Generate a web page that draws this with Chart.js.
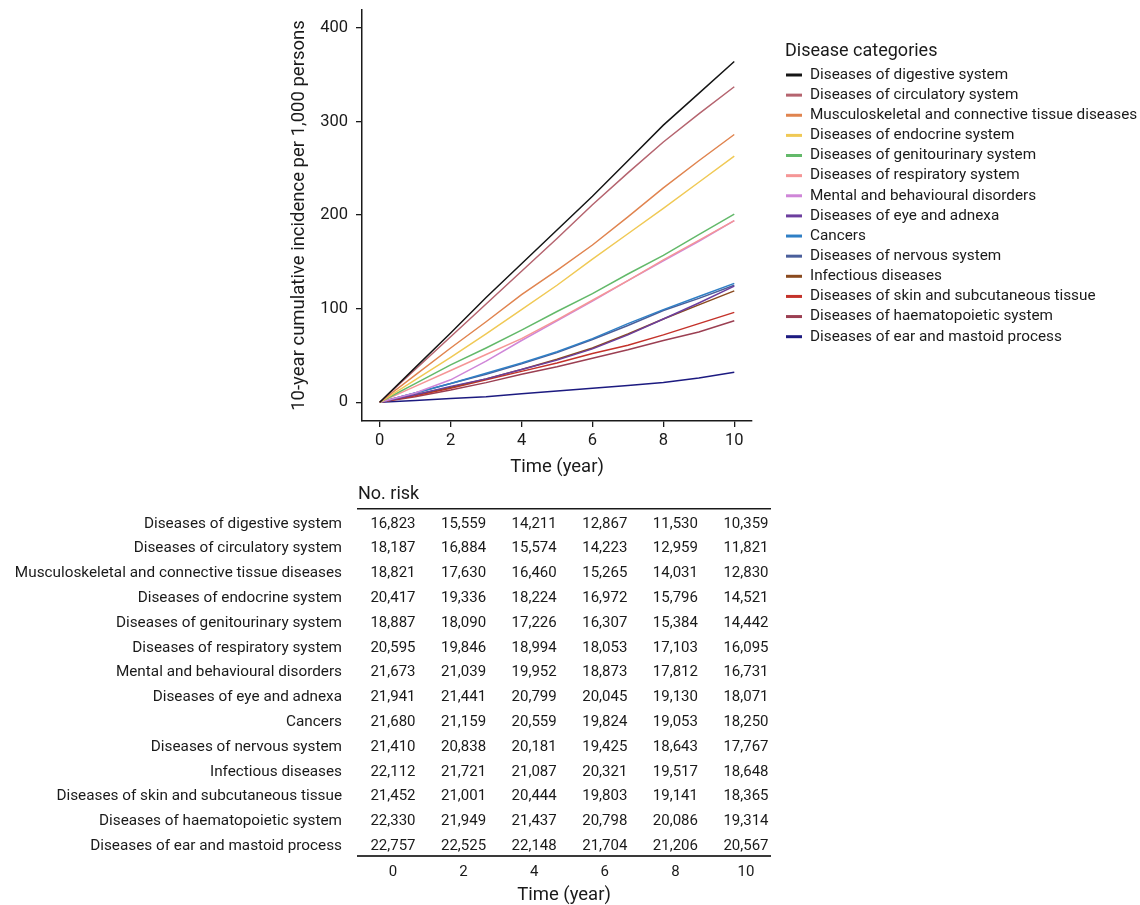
<!DOCTYPE html>
<html>
<head>
<meta charset="utf-8">
<script src="https://cdn.jsdelivr.net/npm/chart.js@4.4.1/dist/chart.umd.min.js"></script>
<style>
  html, body { margin: 0; padding: 0; background: #fff; }
  #wrap { position: relative; width: 1140px; height: 905px; overflow: hidden; }
  canvas { position: absolute; left: 0; }
  #curves { top: 0; }
  #risk { top: 480px; }
</style>
</head>
<body>
<div id="wrap">
  <canvas id="curves" width="1140" height="480"></canvas>
  <canvas id="risk" width="1140" height="425"></canvas>
</div>
<script>
// time points (years)
const years = [0, 1, 2, 3, 4, 5, 6, 7, 8, 9, 10];
const xTicks = [0, 2, 4, 6, 8, 10];
const yTicks = [0, 100, 200, 300, 400];

const categories = [
    'Diseases of digestive system',
    'Diseases of circulatory system',
    'Musculoskeletal and connective tissue diseases',
    'Diseases of endocrine system',
    'Diseases of genitourinary system',
    'Diseases of respiratory system',
    'Mental and behavioural disorders',
    'Diseases of eye and adnexa',
    'Cancers',
    'Diseases of nervous system',
    'Infectious diseases',
    'Diseases of skin and subcutaneous tissue',
    'Diseases of haematopoietic system',
    'Diseases of ear and mastoid process'
];

// cumulative incidence per 1,000 persons
const incDigestive   = [0, 37, 74, 112, 148, 184, 220, 258, 296, 330, 364];
const incCirculatory = [0, 35, 70, 105, 140, 175, 211, 245, 278, 308, 337];
const incMusculo     = [0, 29, 58, 86, 115, 141, 168, 198, 229, 258, 286];
const incEndocrine   = [0, 24, 48, 73, 99, 125, 153, 180, 207, 235, 263];
const incGenito      = [0, 20, 40, 58, 77, 97, 116, 137, 157, 179, 201];
const incRespiratory = [0, 17, 34, 51, 68, 88, 109, 130, 152, 173, 194];
const incMental      = [0, 10, 24, 44, 66, 87, 108, 130, 151, 172, 194];
const incEye         = [0, 8, 17, 25, 35, 45, 57, 72, 89, 106, 124];
const incCancers     = [0, 10, 20, 31, 42, 54, 68, 84, 99, 113, 127];
const incNervous     = [0, 10, 20, 30, 41, 53, 67, 82, 98, 111, 125];
const incInfectious  = [0, 8, 16, 25, 35, 46, 58, 73, 89, 104, 119];
const incSkin        = [0, 7, 15, 24, 33, 42, 52, 61, 72, 84, 96];
const incHaema       = [0, 6, 13, 21, 30, 38, 47, 56, 66, 75, 87];
const incEar         = [0, 2, 4, 6, 9, 12, 15, 18, 21, 26, 32];

const lineColors = [
    '#151515', '#b5646f', '#e0844f', '#f0c955', '#63b96a', '#f59696', '#cf86d8',
    '#6c3e9e', '#2f7fc5', '#4a5f9b', '#8a4a1e', '#c4322a', '#9b3f52', '#1c1a80'
];

// number at risk table
const riskTimes = [0, 2, 4, 6, 8, 10];
const riskDigestive   = [16823, 15559, 14211, 12867, 11530, 10359];
const riskCirculatory = [18187, 16884, 15574, 14223, 12959, 11821];
const riskMusculo     = [18821, 17630, 16460, 15265, 14031, 12830];
const riskEndocrine   = [20417, 19336, 18224, 16972, 15796, 14521];
const riskGenito      = [18887, 18090, 17226, 16307, 15384, 14442];
const riskRespiratory = [20595, 19846, 18994, 18053, 17103, 16095];
const riskMental      = [21673, 21039, 19952, 18873, 17812, 16731];
const riskEye         = [21941, 21441, 20799, 20045, 19130, 18071];
const riskCancers     = [21680, 21159, 20559, 19824, 19053, 18250];
const riskNervous     = [21410, 20838, 20181, 19425, 18643, 17767];
const riskInfectious  = [22112, 21721, 21087, 20321, 19517, 18648];
const riskSkin        = [21452, 21001, 20444, 19803, 19141, 18365];
const riskHaema       = [22330, 21949, 21437, 20798, 20086, 19314];
const riskEar         = [22757, 22525, 22148, 21704, 21206, 20567];

const incSeries = [incDigestive, incCirculatory, incMusculo, incEndocrine, incGenito,
    incRespiratory, incMental, incEye, incCancers, incNervous, incInfectious,
    incSkin, incHaema, incEar];
const riskRows = [riskDigestive, riskCirculatory, riskMusculo, riskEndocrine, riskGenito,
    riskRespiratory, riskMental, riskEye, riskCancers, riskNervous, riskInfectious,
    riskSkin, riskHaema, riskEar];

const FONT = 'Roboto, "Noto Sans", sans-serif';
const INK = '#1a1a1a';
const ROW_SHIFT = 2.5;

// legend drawn at the right of the plot
const sideLegend = {
    id: 'sideLegend',
    afterDraw(chart) {
        const ctx = chart.ctx;
        ctx.save();
        ctx.fillStyle = INK;
        ctx.textBaseline = 'middle';
        ctx.textAlign = 'left';
        ctx.font = '18px ' + FONT;
        ctx.fillText('Disease categories', 785, 51);
        ctx.font = '15.3px ' + FONT;
        chart.data.datasets.forEach(function(ds, i) {
            const y = 75 + i * 20.13;
            ctx.strokeStyle = ds.borderColor;
            ctx.lineWidth = 3;
            ctx.beginPath();
            ctx.moveTo(786, y);
            ctx.lineTo(802, y);
            ctx.stroke();
            ctx.fillText(ds.label, 810, y);
        });
        ctx.restore();
    }
};

// keep the plot edges where they are, ignoring label overhang
function noOverhang(s) {
    s.paddingTop = 0;
    s.paddingBottom = 0;
    s.paddingLeft = 0;
    s.paddingRight = 0;
}

const curves = new Chart(document.getElementById('curves'), {
    type: 'line',
    data: {
        datasets: categories.map(function(name, i) {
            return {
                label: name,
                data: years.map(function(t, k) { return {x: t, y: incSeries[i][k]}; }),
                borderColor: lineColors[i],
                backgroundColor: lineColors[i],
                borderWidth: 1.5,
                pointRadius: 0,
                tension: 0
            };
        })
    },
    options: {
        responsive: false,
        animation: false,
        layout: { padding: { left: 288, right: 388, top: 10, bottom: 0 } },
        scales: {
            x: {
                type: 'linear',
                min: -0.5,
                max: 10.5,
                afterBuildTicks: function(s) { s.ticks = xTicks.map(function(v) { return {value: v}; }); },
                afterFit: function(s) { s.height = 59; noOverhang(s); },
                grid: { drawOnChartArea: false, drawTicks: true, tickLength: 6, tickColor: INK, lineWidth: 1.3 },
                border: { display: true, color: INK, width: 1.5 },
                ticks: { color: INK, font: { family: FONT, size: 16.5 }, padding: 4, maxRotation: 0 },
                title: { display: true, text: 'Time (year)', color: INK, font: { family: FONT, size: 18.5 }, padding: { top: 0, bottom: 2 } }
            },
            y: {
                type: 'linear',
                min: -20,
                max: 419,
                afterBuildTicks: function(s) { s.ticks = yTicks.map(function(v) { return {value: v}; }); },
                afterFit: function(s) { s.width = 74; noOverhang(s); },
                grid: { drawOnChartArea: false, drawTicks: true, tickLength: 6, tickColor: INK, lineWidth: 1.3 },
                border: { display: true, color: INK, width: 1.5 },
                ticks: { color: INK, font: { family: FONT, size: 16.5 }, padding: 8 },
                title: { display: true, text: '10-year cumulative incidence per 1,000 persons', color: INK, font: { family: FONT, size: 18.5 }, padding: { top: 0, bottom: 0 } }
            }
        },
        plugins: {
            legend: { display: false },
            tooltip: { enabled: false }
        }
    },
    plugins: [sideLegend]
});

// numbers at risk written into the table cells
const riskCells = {
    id: 'riskCells',
    afterDraw(chart) {
        const ctx = chart.ctx;
        const xs = chart.scales.x;
        const ys = chart.scales.y;
        ctx.save();
        ctx.fillStyle = INK;
        ctx.font = '15px ' + FONT;
        ctx.textAlign = 'center';
        ctx.textBaseline = 'middle';
        riskRows.forEach(function(row, i) {
            const y = ys.getPixelForValue(i) + ROW_SHIFT;
            row.forEach(function(v, j) {
                ctx.fillText(v.toLocaleString('en-US'), xs.getPixelForValue(riskTimes[j]), y);
            });
        });
        ctx.restore();
    }
};

const risk = new Chart(document.getElementById('risk'), {
    type: 'scatter',
    data: { datasets: [] },
    options: {
        responsive: false,
        animation: false,
        layout: { padding: { left: 0, right: 370, top: 0, bottom: 0 } },
        scales: {
            x: {
                type: 'linear',
                position: 'bottom',
                min: -0.99,
                max: 10.68,
                afterBuildTicks: function(s) { s.ticks = riskTimes.map(function(v) { return {value: v}; }); },
                afterFit: function(s) { s.height = 49; noOverhang(s); },
                grid: { display: false, drawTicks: false },
                border: { display: true, color: '#3a3a3a', width: 2 },
                ticks: { color: INK, font: { family: FONT, size: 15 }, padding: 7, maxRotation: 0 },
                title: { display: true, text: 'Time (year)', color: INK, font: { family: FONT, size: 18.5, lineHeight: 1 }, padding: { top: 0, bottom: 0 } }
            },
            xTop: {
                type: 'linear',
                axis: 'x',
                position: 'top',
                min: -0.99,
                max: 10.68,
                afterFit: function(s) { s.height = 29; noOverhang(s); },
                grid: { display: false, drawTicks: false },
                border: { display: true, color: INK, width: 1.5 },
                ticks: { display: false },
                title: { display: true, text: 'No. risk', align: 'start', color: INK, font: { family: FONT, size: 18, lineHeight: 1 }, padding: { top: 5, bottom: 0 } }
            },
            y: {
                type: 'category',
                labels: categories,
                offset: true,
                afterFit: function(s) { s.width = 358; noOverhang(s); },
                grid: { display: false, drawTicks: false },
                border: { display: false },
                ticks: { color: INK, font: { family: FONT, size: 15.3 }, padding: 16, autoSkip: false, labelOffset: ROW_SHIFT }
            }
        },
        plugins: {
            legend: { display: false },
            tooltip: { enabled: false }
        }
    },
    plugins: [riskCells]
});
</script>
</body>
</html>
